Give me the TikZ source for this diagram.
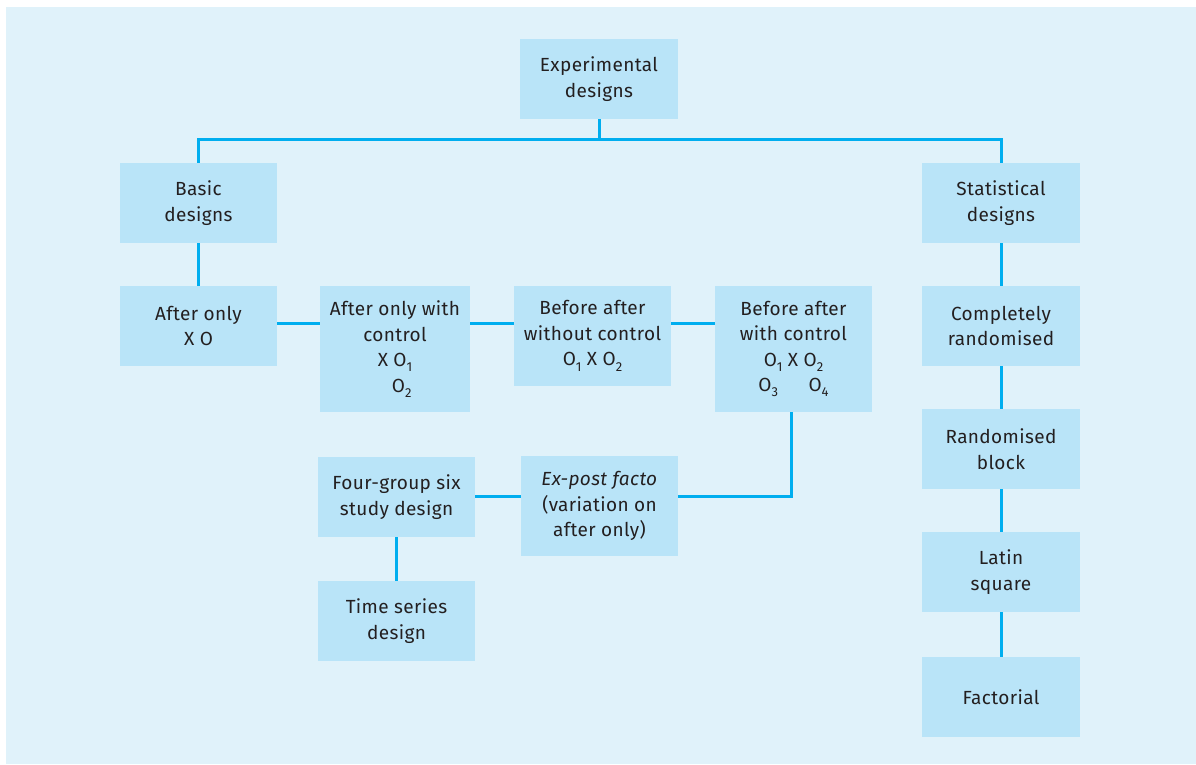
\documentclass[tikz,border=0pt]{standalone}
\usepackage{fontspec}
\setmainfont{Fira Sans}[LetterSpace=2]
\definecolor{panelbg}{HTML}{E0F2FA}
\definecolor{boxfill}{HTML}{B9E4F8}
\definecolor{linec}{HTML}{00AEEF}
\definecolor{txt}{HTML}{231F20}
\newcommand{\lowsub}[1]{\raisebox{-0.28em}{\fontsize{13}{13}\selectfont #1}}
\begin{document}
\begin{tikzpicture}[x=1pt,y=-1pt,
  box/.style={fill=boxfill, draw=none, inner sep=0pt, align=center, text=txt,
    font=\fontsize{19}{25.5}\selectfont},
  conn/.style={draw=linec, line width=3pt}]
\useasboundingbox (0,0) rectangle (1196,764);
\fill[panelbg] (6,7) rectangle (1196,764);
% boxes
\node[box, minimum width=158pt, minimum height=80pt] (exp) at (599,79) {Experimental\\designs};
\node[box, minimum width=157pt, minimum height=80pt] (basic) at (198.5,203) {Basic\\designs};
\node[box, minimum width=158pt, minimum height=80pt] (stat) at (1001,203) {Statistical\\designs};
\node[box, minimum width=157pt, minimum height=80pt] (ao) at (198.5,326) {After only\\X O};
\node[box, minimum width=150pt, minimum height=126pt] (aoc) at (395,349) {After only with\\control\\X O\lowsub{1}\\\hphantom{X\,}O\lowsub{2}};
\node[box, minimum width=157pt, minimum height=100pt] (bawo) at (592.5,336) {Before after\\without control\\O\lowsub{1} X O\lowsub{2}};
\node[box, minimum width=157pt, minimum height=126pt] (bawc) at (793.5,349) {Before after\\with control\\O\lowsub{1} X O\lowsub{2}\\O\lowsub{3}\hphantom{ X }\enspace O\lowsub{4}};
\node[box, minimum width=157pt, minimum height=80pt] (four) at (396.5,497) {Four-group six\\study design};
\node[box, minimum width=157pt, minimum height=100pt] (expost) at (599.5,506) {\textit{Ex-post facto}\\(variation on\\after only)};
\node[box, minimum width=157pt, minimum height=80pt] (time) at (396.5,621) {Time series\\design};
\node[box, minimum width=158pt, minimum height=80pt] (comp) at (1001,326) {Completely\\randomised};
\node[box, minimum width=158pt, minimum height=80pt] (rblock) at (1001,449) {Randomised\\block};
\node[box, minimum width=158pt, minimum height=80pt] (latin) at (1001,572) {Latin\\square};
\node[box, minimum width=158pt, minimum height=80pt] (fact) at (1001,697) {Factorial};
% helper coordinates
\coordinate (hub) at (599,139);
\coordinate (row) at (0,323);
\coordinate (bend) at (791,496);
% connectors
\draw[conn] (exp.south) -- (hub);
\draw[conn] (hub) -| (basic.north);
\draw[conn] (hub) -| (stat.north);
\draw[conn] (basic.south) -- (ao.north);
\draw[conn] (ao.east |- row) -- (aoc.west |- row);
\draw[conn] (aoc.east |- row) -- (bawo.west |- row);
\draw[conn] (bawo.east |- row) -- (bawc.west |- row);
\draw[conn] (bawc.south -| bend) -- (bend) -- (expost.east |- bend);
\draw[conn] (four.east |- bend) -- (expost.west |- bend);
\draw[conn] (four.south) -- (time.north);
\draw[conn] (stat.south) -- (comp.north);
\draw[conn] (comp.south) -- (rblock.north);
\draw[conn] (rblock.south) -- (latin.north);
\draw[conn] (latin.south) -- (fact.north);
\end{tikzpicture}
\end{document}
